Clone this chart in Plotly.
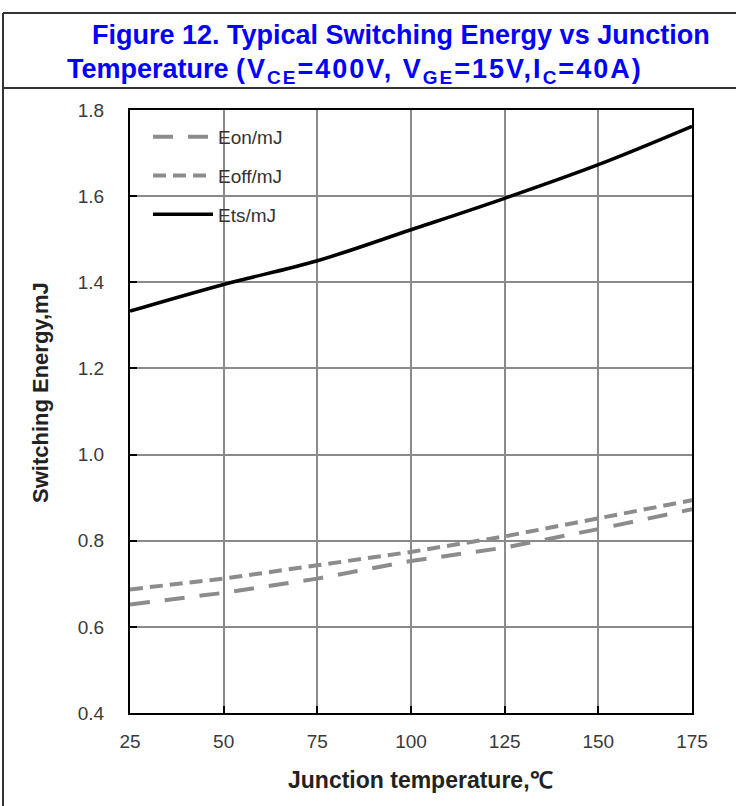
import plotly.graph_objects as go

# data
temperature = [25, 50, 75, 100, 125, 150, 175]
e_on = [0.652, 0.679, 0.712, 0.753, 0.784, 0.827, 0.873]
e_off = [0.687, 0.712, 0.743, 0.774, 0.810, 0.852, 0.894]
e_ts = [1.333, 1.395, 1.450, 1.522, 1.595, 1.673, 1.762]

x_ticks = [25, 50, 75, 100, 125, 150, 175]
y_ticks = [0.4, 0.6, 0.8, 1.0, 1.2, 1.4, 1.6, 1.8]

W, H = 736, 806
L, R, T, B = 130, 44, 110, 93
FONT = "Liberation Sans, Arial, sans-serif"


def px(x):
    return (x - L) / (W - L - R)


def py(y):
    return (H - B - y) / (H - T - B)


def sub(s):
    return f"<sub><span style='font-size:19px'>{s}</span></sub>"


fig = go.Figure()

fig.add_trace(go.Scatter(
    x=temperature, y=e_on, mode="lines", name="Eon/mJ", legendgroup="on",
    line=dict(color="#8c8c8c", width=4, dash="20px,15px"),
))
fig.add_trace(go.Scatter(
    x=temperature, y=e_off, mode="lines", name="Eoff/mJ", legendgroup="off",
    line=dict(color="#8c8c8c", width=4, dash="13px,7px"),
))
fig.add_trace(go.Scatter(
    x=temperature, y=e_ts, mode="lines", name="Ets/mJ", legendgroup="ts",
    line=dict(color="#000000", width=3.5, shape="spline"),
))

axis_common = dict(
    showline=True, linecolor="#000000", linewidth=2, mirror=True,
    showgrid=True, gridcolor="#8a8a8a", gridwidth=1.5,
    ticks="inside", ticklen=7, tickcolor="#000000", tickwidth=1.5,
    tickfont=dict(family=FONT, size=19, color="#3a3a3a"),
    zeroline=False,
)

fig.update_xaxes(range=[25, 175], tickvals=x_ticks, ticklabelstandoff=10, **axis_common)
fig.update_yaxes(range=[0.4, 1.8], tickvals=y_ticks, tickformat=".1f",
                 ticklabelstandoff=20, **axis_common)

# title lines and axis titles
ann = dict(xref="paper", yref="paper", showarrow=False, xanchor="center", yanchor="middle")
fig.add_annotation(
    text="<b>Figure 12. Typical Switching Energy vs Junction</b>",
    x=px(401), y=py(35), font=dict(family=FONT, size=27, color="#0000ff"), **ann,
)
params = (f"<span style='letter-spacing:2px'>(V{sub('CE')}=400V, "
          f"V{sub('GE')}=15V,I{sub('C')}=40A)</span>")
fig.add_annotation(
    text=f"<b>Temperature {params}</b>",
    x=px(355), y=py(71), font=dict(family=FONT, size=27, color="#0000ff"), **ann,
)
fig.add_annotation(
    text="<b>Junction temperature,℃</b>",
    x=px(420), y=py(780), font=dict(family=FONT, size=23, color="#222222"), **ann,
)
fig.add_annotation(
    text="<b>Switching Energy,mJ</b>", textangle=-90,
    x=px(40), y=py(393), font=dict(family=FONT, size=22, color="#222222"), **ann,
)

# outer frame and the rule under the title
border = dict(color="#333333", width=2)
fig.add_shape(type="line", xref="paper", yref="paper",
              x0=px(3), x1=px(3), y0=py(13), y1=py(820), line=border)
fig.add_shape(type="line", xref="paper", yref="paper",
              x0=px(3), x1=px(740), y0=py(13), y1=py(13), line=border)
fig.add_shape(type="line", xref="paper", yref="paper",
              x0=px(3), x1=px(740), y0=py(88), y1=py(88), line=border)
# white patch behind the legend hides the grid there
fig.add_shape(type="rect", xref="paper", yref="paper", layer="between",
              x0=px(131), x1=px(315), y0=py(111), y1=py(232),
              fillcolor="white", line=dict(width=0))

fig.update_layout(
    width=W, height=H,
    margin=dict(l=L, r=R, t=T, b=B),
    paper_bgcolor="white", plot_bgcolor="white",
    showlegend=True,
    legend=dict(
        x=px(148), y=py(118), xanchor="left", yanchor="top",
        bgcolor="rgba(0,0,0,0)", borderwidth=0,
        font=dict(family=FONT, size=19, color="#333333"),
        itemwidth=60, tracegroupgap=11,
    ),
)

fig.write_html("out.html", config={"displayModeBar": False},
               post_script="document.body.style.margin='0';")
